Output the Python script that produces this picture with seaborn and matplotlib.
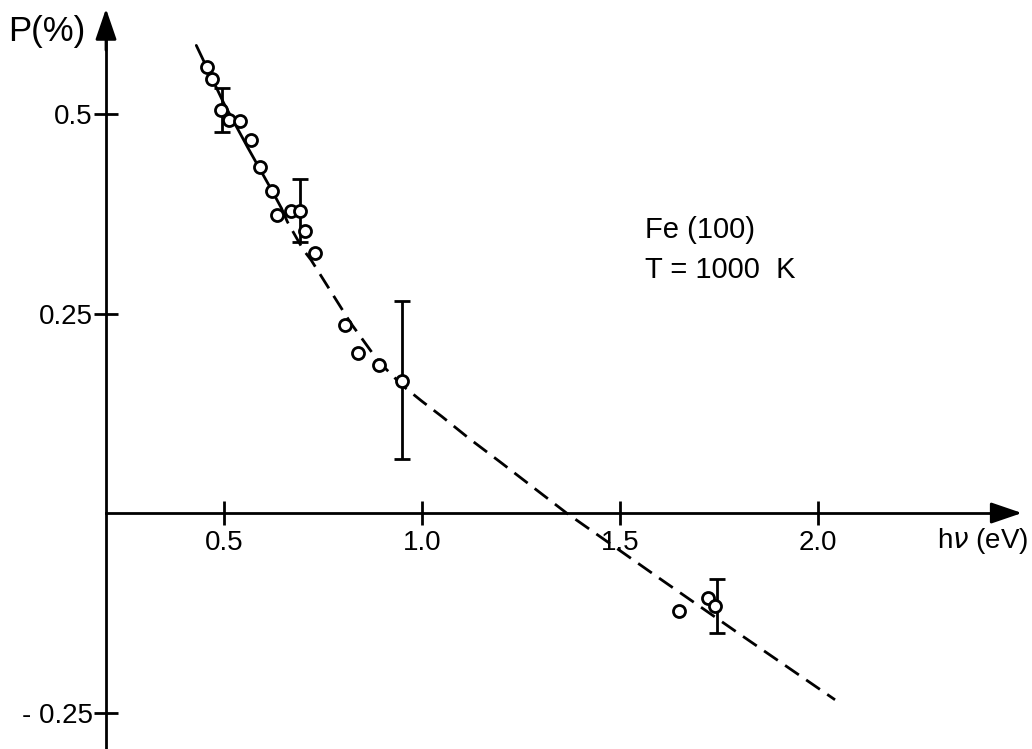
import matplotlib
matplotlib.use("Agg")
import matplotlib.pyplot as plt
import seaborn as sns
import pandas as pd

# Measured spin polarization of photoelectrons, Fe(100) at 1000 K
photon_energy = [0.458, 0.470, 0.492, 0.513, 0.540, 0.567, 0.591, 0.620, 0.633,
                 0.668, 0.692, 0.705, 0.731, 0.806, 0.839, 0.891, 0.949,
                 1.649, 1.723, 1.740]
polarization = [0.559, 0.544, 0.505, 0.492, 0.491, 0.467, 0.433, 0.404, 0.374,
                 0.379, 0.379, 0.353, 0.326, 0.236, 0.201, 0.185, 0.165,
                 -0.123, -0.106, -0.116]

# Representative error bars
err_energy = [0.494, 0.692, 0.949, 1.744]
err_center = [0.505, 0.3795, 0.167, -0.1165]
err_size = [0.028, 0.0395, 0.099, 0.0335]

# Guide curve through the data (solid part, then dashed extrapolation)
curve_solid_x = [0.430, 0.500, 0.560, 0.620, 0.645]
curve_solid_y = [0.586, 0.513, 0.458, 0.405, 0.382]
curve_dash_x = [0.645, 0.660, 0.700, 0.720, 0.820, 0.890, 0.950, 1.000, 1.050,
                1.120, 1.200, 1.365, 1.600, 1.800, 2.043]
curve_dash_y = [0.382, 0.365, 0.330, 0.317, 0.238, 0.190, 0.160, 0.140, 0.121,
                0.093, 0.063, 0.000, -0.082, -0.151, -0.234]

x_ticks = [0.5, 1.0, 1.5, 2.0]
x_ticklabels = ["0.5", "1.0", "1.5", "2.0"]
y_ticks = [0.5, 0.25, -0.25]
y_ticklabels = ["0.5", "0.25", "- 0.25"]

sns.set_style("white")
plt.rcParams["font.family"] = ["Liberation Sans", "DejaVu Sans"]
plt.rcParams["text.color"] = "black"

fig = plt.figure(figsize=(10.32, 7.49), dpi=100)
ax = fig.add_axes([0, 0, 1, 1])
ax.set_xlim(-0.0657, 2.5404)
ax.set_ylim(-0.2957, 0.6429)

y_axis_x = 0.202
lw = 2.0

# axes drawn as crossing lines with arrowheads
for side in ["top", "right"]:
    ax.spines[side].set_visible(False)
ax.spines["left"].set_position(("data", y_axis_x))
ax.spines["bottom"].set_position(("data", 0.0))
ax.spines["left"].set_bounds(-0.2957, 0.60)
ax.spines["bottom"].set_bounds(y_axis_x, 2.48)
for side in ["left", "bottom"]:
    ax.spines[side].set_linewidth(lw)
    ax.spines[side].set_color("black")

arrow_kw = dict(arrowstyle="-|>,head_length=1.9,head_width=0.65", color="black",
                lw=lw, shrinkA=0, shrinkB=0, mutation_scale=10)
ax.annotate("", xy=(y_axis_x, 0.632), xytext=(y_axis_x, 0.58), arrowprops=arrow_kw)
ax.annotate("", xy=(2.515, 0.0), xytext=(2.45, 0.0), arrowprops=arrow_kw)

ax.set_xticks(x_ticks)
ax.set_xticklabels(x_ticklabels)
ax.set_yticks(y_ticks)
ax.set_yticklabels(y_ticklabels)
ax.tick_params(axis="both", direction="inout", length=17, width=lw,
               labelsize=20, colors="black", bottom=True, left=True)
ax.tick_params(axis="x", pad=4)
ax.tick_params(axis="y", pad=1)

# curve
solid = pd.DataFrame({"E": curve_solid_x, "P": curve_solid_y})
dashed = pd.DataFrame({"E": curve_dash_x, "P": curve_dash_y})
sns.lineplot(data=solid, x="E", y="P", ax=ax, color="black", lw=lw, sort=False)
sns.lineplot(data=dashed, x="E", y="P", ax=ax, color="black", lw=lw, sort=False,
             dashes=False, linestyle=(0, (6, 3.2)))

# error bars
ax.errorbar(err_energy, err_center, yerr=err_size, fmt="none", ecolor="black",
            elinewidth=lw, capsize=6, capthick=lw, zorder=3)

# data points
pts = pd.DataFrame({"E": photon_energy, "P": polarization})
sns.scatterplot(data=pts, x="E", y="P", ax=ax, marker="o", s=75,
                facecolor="white", edgecolor="black", linewidth=2.0, zorder=4)

ax.set_xlabel("")
ax.set_ylabel("")

# axis titles and annotation
fig.text(8 / 1032, 1 - 41 / 749, "P(%)", fontsize=25, ha="left", va="baseline")
fig.text(1028 / 1032, 1 - 548 / 749, "h$\\nu$ (eV)", fontsize=20,
         ha="right", va="baseline")
fig.text(645 / 1032, 1 - 238 / 749, "Fe (100)", fontsize=21, ha="left", va="baseline")
fig.text(645 / 1032, 1 - 278 / 749, "T = 1000  K", fontsize=21, ha="left", va="baseline")

fig.savefig("out.png", dpi=100)
